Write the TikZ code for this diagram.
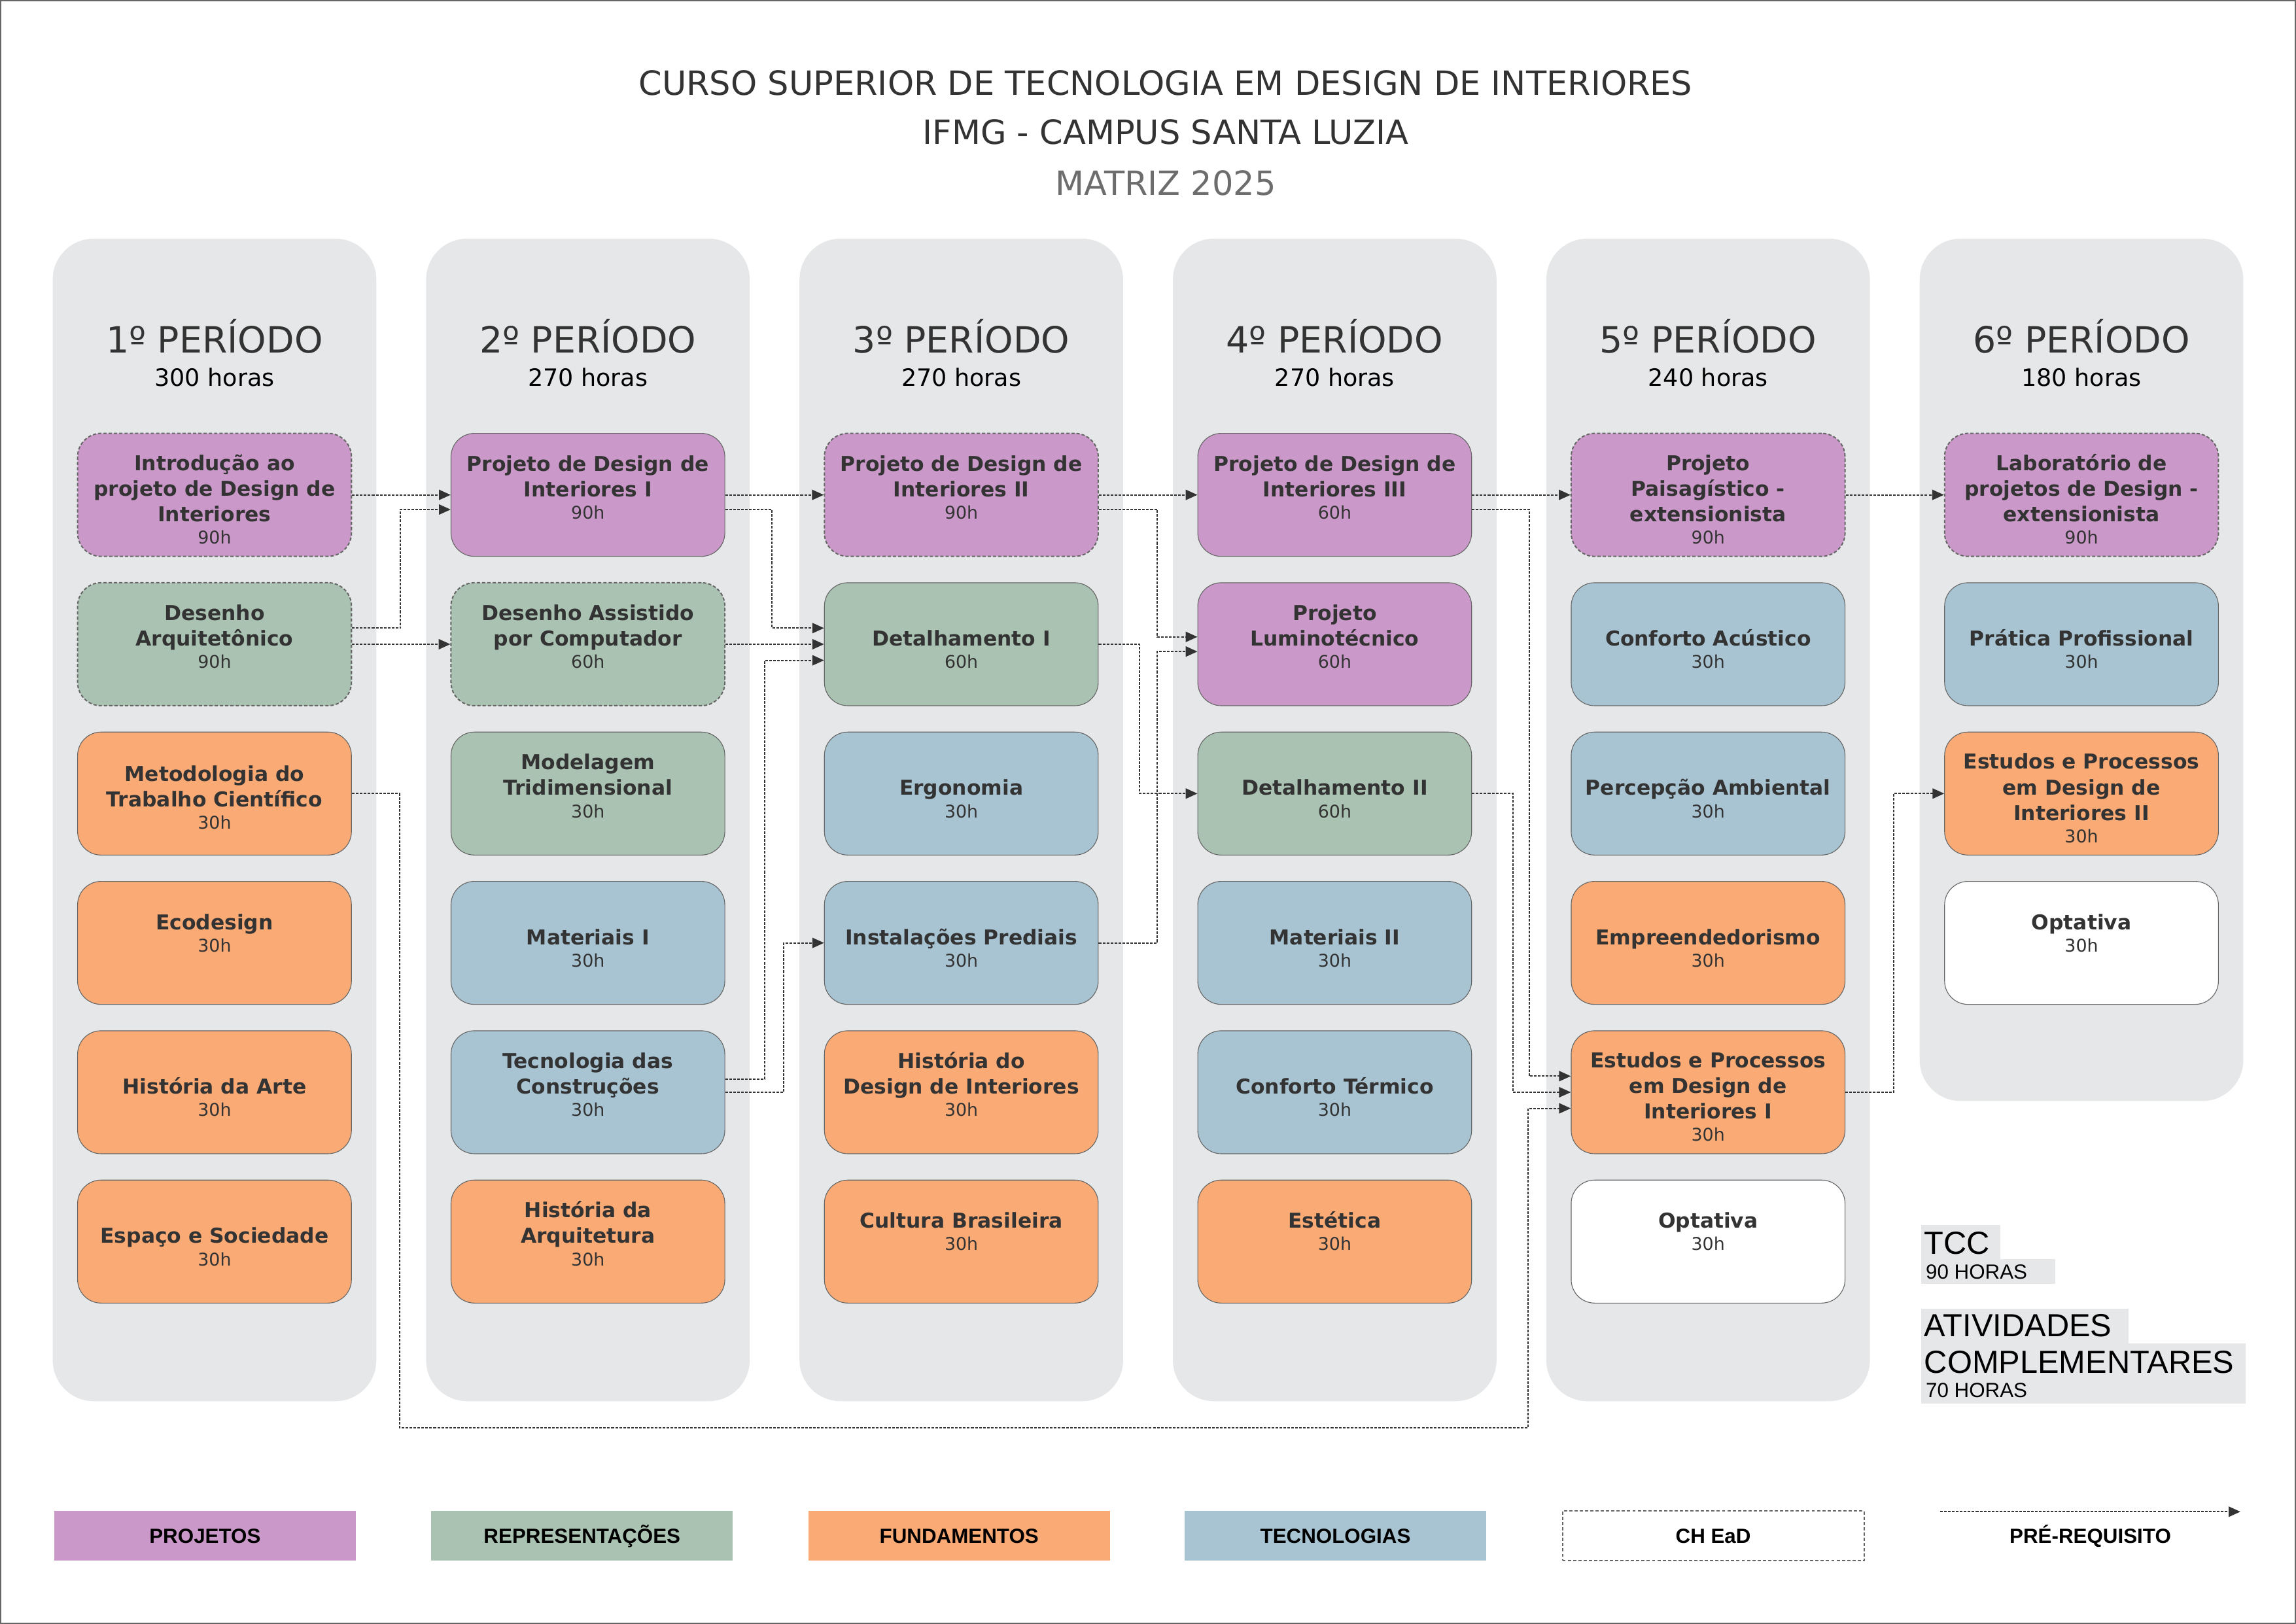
\documentclass[tikz,border=0pt]{standalone}
\usepackage{fontspec}
\setmainfont{DejaVu Sans}
\newfontfamily\arialf{Liberation Sans}
\usetikzlibrary{arrows.meta}
\definecolor{cproj}{HTML}{CB99C9}
\definecolor{crep}{HTML}{AAC2B2}
\definecolor{cfund}{HTML}{F9AA75}
\definecolor{ctec}{HTML}{A8C4D2}
\definecolor{colbg}{HTML}{E6E7E8}
\definecolor{txt}{HTML}{333333}
\definecolor{borda}{HTML}{666666}
\definecolor{seta}{HTML}{333333}
\definecolor{matriz}{HTML}{6D6D6D}
\newcommand{\cargah}[1]{\raisebox{2.3pt}{\fontsize{12}{14}\selectfont\mdseries #1}}

\begin{document}
\begin{tikzpicture}[x=1pt,y=-1pt,
  disc/.style={draw=borda,line width=0.5pt,rounded corners=16pt,minimum width=187pt,minimum height=84pt,inner sep=0pt,align=center,text height=37.4pt,text depth=0pt,text=txt,font=\fontsize{14}{17.5}\selectfont\bfseries},
  ead/.style={line width=0.9pt,dash pattern=on 2.2pt off 1.4pt},
  proj/.style={disc,fill=cproj},
  repr/.style={disc,fill=crep},
  fund/.style={disc,fill=cfund},
  tecn/.style={disc,fill=ctec},
  opt/.style={disc,fill=white},
  liftbox/.style={text height=16.6pt},
  longbox/.style={text height=71.6pt},
  midbox/.style={text height=53.2pt},
  prereq/.style={draw=seta,line width=0.9pt,dash pattern=on 1.8pt off 0.9pt,-{Triangle[length=8pt,width=7pt]}},
  titulo/.style={anchor=base,inner sep=0pt,text=txt,font=\fontsize{22.8}{26}\selectfont},
  per/.style={anchor=base,inner sep=0pt,text=txt,font=\fontsize{24.7}{28}\selectfont},
  hor/.style={anchor=base,inner sep=0pt,text=black,font=\fontsize{16.3}{18}\selectfont},
  tcc/.style={anchor=base west,inner sep=0pt,text=black,font=\arialf\fontsize{21.8}{24}\selectfont},
  tcch/.style={anchor=base west,inner sep=0pt,text=black,font=\arialf\fontsize{14}{16}\selectfont},
  leg/.style={minimum width=206pt,minimum height=34pt,inner sep=0pt,text height=10pt,text depth=0pt,font=\arialf\fontsize{14}{16}\selectfont\bfseries}]
\useasboundingbox (0,0) rectangle (1568,1109);
\draw[borda,line width=0.9pt] (0.45,0.45) rectangle (1567.55,1108.55);

\node[titulo] (tit1) at (796,64.8) {CURSO SUPERIOR DE TECNOLOGIA EM DESIGN DE INTERIORES};
\node[titulo] (tit2) at (796,98.6) {IFMG - CAMPUS SANTA LUZIA};
\node[titulo,text=matriz] (tit3) at (796,133.4) {MATRIZ 2025};

\foreach \i/\bot in {0/957,1/957,2/957,3/957,4/957,5/752}
  \fill[colbg,rounded corners=28pt] ({36+255*\i},163) rectangle ({257+255*\i},\bot);
\foreach \i/\h in {1/300,2/270,3/270,4/270,5/240,6/180}{
  \node[per] (per\i) at ({146.5+255*(\i-1)},240.8) {\i{}º PERÍODO};
  \node[hor] (hor\i) at ({146.5+255*(\i-1)},263.6) {\h\ horas};
}

\node[proj,ead,longbox] (intro) at (146.5,338) {Introdução ao\\projeto de Design de\\Interiores\\\cargah{90h}};
\node[repr,ead] (desarq) at (146.5,440) {Desenho\\Arquitetônico\\\cargah{90h}};
\node[fund,midbox] (metod) at (146.5,542) {Metodologia do\\Trabalho Científico\\\cargah{30h}};
\node[fund,liftbox] (ecod) at (146.5,644) {Ecodesign\\\cargah{30h}};
\node[fund] (histarte) at (146.5,746) {História da Arte\\\cargah{30h}};
\node[fund] (espaco) at (146.5,848) {Espaço e Sociedade\\\cargah{30h}};

\node[proj] (pdi1) at (401.5,338) {Projeto de Design de\\Interiores I\\\cargah{90h}};
\node[repr,ead] (dac) at (401.5,440) {Desenho Assistido\\por Computador\\\cargah{60h}};
\node[repr] (model) at (401.5,542) {Modelagem\\Tridimensional\\\cargah{30h}};
\node[tecn] (mat1) at (401.5,644) {Materiais I\\\cargah{30h}};
\node[tecn] (tecon) at (401.5,746) {Tecnologia das\\Construções\\\cargah{30h}};
\node[fund] (histarq) at (401.5,848) {História da\\Arquitetura\\\cargah{30h}};

\node[proj,ead] (pdi2) at (656.5,338) {Projeto de Design de\\Interiores II\\\cargah{90h}};
\node[repr] (det1) at (656.5,440) {Detalhamento I\\\cargah{60h}};
\node[tecn] (ergo) at (656.5,542) {Ergonomia\\\cargah{30h}};
\node[tecn] (inst) at (656.5,644) {Instalações Prediais\\\cargah{30h}};
\node[fund] (histdi) at (656.5,746) {História do\\Design de Interiores\\\cargah{30h}};
\node[fund,liftbox] (cultura) at (656.5,848) {Cultura Brasileira\\\cargah{30h}};

\node[proj] (pdi3) at (911.5,338) {Projeto de Design de\\Interiores III\\\cargah{60h}};
\node[proj] (lumi) at (911.5,440) {Projeto\\Luminotécnico\\\cargah{60h}};
\node[repr] (det2) at (911.5,542) {Detalhamento II\\\cargah{60h}};
\node[tecn] (mat2) at (911.5,644) {Materiais II\\\cargah{30h}};
\node[tecn] (ctermico) at (911.5,746) {Conforto Térmico\\\cargah{30h}};
\node[fund,liftbox] (estetica) at (911.5,848) {Estética\\\cargah{30h}};

\node[proj,ead,longbox] (paisag) at (1166.5,338) {Projeto\\Paisagístico -\\extensionista\\\cargah{90h}};
\node[tecn] (cacust) at (1166.5,440) {Conforto Acústico\\\cargah{30h}};
\node[tecn] (percep) at (1166.5,542) {Percepção Ambiental\\\cargah{30h}};
\node[fund] (empreend) at (1166.5,644) {Empreendedorismo\\\cargah{30h}};
\node[fund,longbox] (est1) at (1166.5,746) {Estudos e Processos\\em Design de\\Interiores I\\\cargah{30h}};
\node[opt,liftbox] (opt5) at (1166.5,848) {Optativa\\\cargah{30h}};

\node[proj,ead,longbox] (lab) at (1421.5,338) {Laboratório de\\projetos de Design -\\extensionista\\\cargah{90h}};
\node[tecn] (pratica) at (1421.5,440) {Prática Profissional\\\cargah{30h}};
\node[fund,longbox] (est2) at (1421.5,542) {Estudos e Processos\\em Design de\\Interiores II\\\cargah{30h}};
\node[opt,liftbox] (opt6) at (1421.5,644) {Optativa\\\cargah{30h}};

\draw[prereq] (intro.east) -- (pdi1.west);
\draw[prereq] ([yshift=11pt]desarq.east) -- ++(33,0) |- ([yshift=-10pt]pdi1.west);
\draw[prereq] (desarq.east) -- (dac.west);
\draw[prereq] (pdi1.east) -- (pdi2.west);
\draw[prereq] ([yshift=-10pt]pdi1.east) -- ++(32,0) |- ([yshift=11pt]det1.west);
\draw[prereq] (dac.east) -- (det1.west);
\draw[prereq] ([yshift=9pt]tecon.east) -- ++(27,0) |- ([yshift=-11pt]det1.west);
\draw[prereq] (tecon.east) -- ++(40,0) |- (inst.west);
\draw[prereq] (pdi2.east) -- (pdi3.west);
\draw[prereq] ([yshift=-10pt]pdi2.east) -- ++(40,0) |- ([yshift=5pt]lumi.west);
\draw[prereq] (det1.east) -- ++(28,0) |- (det2.west);
\draw[prereq] (inst.east) -- ++(40,0) |- ([yshift=-5pt]lumi.west);
\draw[prereq] (pdi3.east) -- (paisag.west);
\draw[prereq] ([yshift=-10pt]pdi3.east) -- ++(39,0) |- ([yshift=11pt]est1.west);
\draw[prereq] (det2.east) -- ++(28,0) |- (est1.west);
\coordinate (desvio) at (273,975);
\draw[prereq] (metod.east) -| (desvio) -| ([xshift=-29pt,yshift=-11pt]est1.west) -- ([yshift=-11pt]est1.west);
\draw[prereq] (paisag.east) -- (lab.west);
\draw[prereq] (est1.east) -- ++(33,0) |- (est2.west);

\fill[colbg] (1312,836.5) rectangle (1366,860);
\fill[colbg] (1312,860) rectangle (1403.5,877);
\fill[colbg] (1312,894) rectangle (1453.7,917.6);
\fill[colbg] (1312,917.6) rectangle (1533.8,958.7);
\node[tcc] (tcc) at (1314,856.4) {TCC};
\node[tcch] (tcch) at (1315,873.6) {90 HORAS};
\node[tcc] (ativ) at (1314,913) {ATIVIDADES};
\node[tcc] (compl) at (1314,938) {COMPLEMENTARES};
\node[tcch] (ativh) at (1315,954.5) {70 HORAS};

\node[leg,fill=cproj] (lproj) at (140,1049) {PROJETOS};
\node[leg,fill=crep] (lrep) at (397.5,1049) {REPRESENTAÇÕES};
\node[leg,fill=cfund] (lfund) at (655,1049) {FUNDAMENTOS};
\node[leg,fill=ctec] (ltec) at (912,1049) {TECNOLOGIAS};
\node[leg,draw=borda,ead] (lead) at (1170,1049) {CH EaD};
\node[leg] (lpre) at (1427.5,1049) {PRÉ-REQUISITO};
\coordinate (pa) at (1325,1032.5);
\coordinate (pb) at (1530,1032.5);
\draw[prereq] (pa) -- (pb);
\end{tikzpicture}
\end{document}
